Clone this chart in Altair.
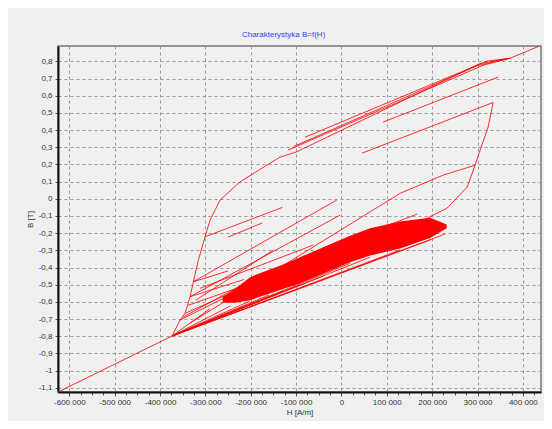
import altair as alt
import pandas as pd

# ---- curves (H in A/m, B in T) ----
sat_H = [-624900, -373500]
sat_B = [-1.125, -0.799]

left_H = [-373500, -355850, -344820, -333790, -326520, -315490, -300720]
left_B = [-0.799, -0.706, -0.667, -0.570, -0.483, -0.357, -0.221]

upper_H = [-300720, -289700, -267600, -223500, -157300, -135300, -98500, 305800, 372000, 435900]
upper_B = [-0.221, -0.124, -0.007, 0.099, 0.208, 0.243, 0.274, 0.788, 0.819, 0.889]

l1_H = [-117650, 312400, 372000]
l1_B = [0.284, 0.778, 0.819]
l2_H = [-80200, 321200, 372000]
l2_B = [0.359, 0.802, 0.819]
l5_H = [-105000, 300000, 372000]
l5_B = [0.305, 0.776, 0.819]
l3_H = [91900, 345500]
l3_B = [0.447, 0.709]
l4_H = [45550, 334500, 323400, 305800, 294800, 277100, 233000, 180100, 151400]
l4_B = [0.266, 0.561, 0.418, 0.284, 0.196, 0.068, -0.054, -0.124, -0.159]

long_H = [-333790, 129340, 224200, 294800]
long_B = [-0.723, 0.032, 0.138, 0.196]

short_H = [63190, 166850]
short_B = [-0.194, -0.089]

c_H = [-326520, -10250]
c_B = [-0.483, -0.007]
f2_H = [-333790, -2980]
f2_B = [-0.570, -0.095]
d_H = [-311740, -61860]
d_B = [-0.521, -0.269]
e_H = [-320560, -150080]
e_B = [-0.589, -0.298]
a_H = [-300720, -130230]
a_B = [-0.221, -0.050]
b_H = [-249990, -175000]
b_B = [-0.223, -0.141]

# fan of lines leaving the convergence point towards the dense region
fan_start_H = -373500
fan_start_B = -0.799
fan_end_H = [-289690, -245580, -201470, -160000, -128690, -91190, -40000, 19080, 63190, 129340, 195520, 228600]
fan_end_B = [-0.640, -0.625, -0.595, -0.560, -0.535, -0.500, -0.450, -0.375, -0.340, -0.298, -0.240, -0.205]

# lines from the left rising curve into the dense region
lc_start_H = [-355850, -350000, -344820, -338000, -333790, -326520]
lc_start_B = [-0.706, -0.690, -0.667, -0.620, -0.570, -0.483]
lc_end_H = [-201470, -170000, -179410, -230000, -215000, -250000]
lc_end_B = [-0.502, -0.430, -0.473, -0.520, -0.470, -0.420]

# dense minor-loop region (upper and lower edge)
blob_H = [-262000, -235000, -201470, -128690, -91190, 19080, 63190, 129340, 195520, 232000]
blob_top = [-0.572, -0.525, -0.456, -0.382, -0.340, -0.215, -0.172, -0.132, -0.110, -0.150]
blob_bot = [-0.605, -0.605, -0.590, -0.525, -0.492, -0.370, -0.330, -0.290, -0.228, -0.172]

x_ticks = list(range(-600000, 425001, 25000))
y_ticks = [round(-1.1 + 0.1 * i, 1) for i in range(20)]

curves = {
    "sat": (sat_H, sat_B), "left": (left_H, left_B), "upper": (upper_H, upper_B),
    "l1": (l1_H, l1_B), "l2": (l2_H, l2_B), "l5": (l5_H, l5_B), "l3": (l3_H, l3_B),
    "l4": (l4_H, l4_B), "long": (long_H, long_B), "short": (short_H, short_B),
    "c": (c_H, c_B), "f2": (f2_H, f2_B), "d": (d_H, d_B), "e": (e_H, e_B),
    "a": (a_H, a_B), "b": (b_H, b_B),
}
for i, (h, bb) in enumerate(zip(fan_end_H, fan_end_B)):
    curves[f"fan{i}"] = ([fan_start_H, h], [fan_start_B, bb])
for i in range(len(lc_start_H)):
    curves[f"lc{i}"] = ([lc_start_H[i], lc_end_H[i]], [lc_start_B[i], lc_end_B[i]])

rows = []
for name, (hs, bs) in curves.items():
    for k, (h, bb) in enumerate(zip(hs, bs)):
        rows.append({"H": h, "B": bb, "curve": name, "k": k})
df = pd.DataFrame(rows)
blob_df = pd.DataFrame({"H": blob_H, "top": blob_top, "bot": blob_bot})

FONT = "Liberation Sans"
xscale = alt.Scale(domain=[-625000, 440000], nice=False, zero=False)
yscale = alt.Scale(domain=[-1.125, 0.89], nice=False, zero=False)
major = "datum.value % 100000 === 0"

xaxis = alt.Axis(
    values=x_ticks,
    labelExpr=f"{major} ? (datum.value < 0 ? '-' : '') + replace(format(abs(datum.value), ','), ',', ' ') : ''",
    tickSize={"condition": {"test": major, "value": 4}, "value": 3},
    gridOpacity={"condition": {"test": major, "value": 1}, "value": 0},
    grid=True, gridColor="#999999", gridDash=[3, 3], gridWidth=1,
    labelFont=FONT, labelFontSize=8, labelColor="#333333", labelOverlap=False,
    labelFlush=False, labelPadding=2,
    domainColor="#111111", domainWidth=2, tickColor="#555555",
    titleFont=FONT, titleFontSize=8, titleFontWeight="normal", titleColor="#333333",
    titlePadding=2,
)
yaxis = alt.Axis(
    values=y_ticks,
    labelExpr="(datum.value < 0 ? '-' : '') + replace(format(abs(datum.value), '.1~f'), '.', ',')",
    tickSize=3, grid=True, gridColor="#999999", gridDash=[3, 3], gridWidth=1,
    labelFont=FONT, labelFontSize=8, labelColor="#333333", labelOverlap=False,
    labelFlush=False, labelPadding=3,
    domainColor="#111111", domainWidth=2, tickColor="#555555",
    titleFont=FONT, titleFontSize=8, titleFontWeight="normal", titleColor="#333333",
    titlePadding=4,
)

blob = alt.Chart(blob_df).mark_area(color="#ff0000", opacity=1, clip=True).encode(
    x=alt.X("H:Q", scale=xscale, axis=xaxis, title="H [A/m]"),
    y=alt.Y("top:Q", scale=yscale, axis=yaxis, title="B [T]"),
    y2="bot:Q",
)

lines = alt.Chart(df).mark_line(color="#ff0000", strokeWidth=0.9, opacity=0.9, clip=True).encode(
    x=alt.X("H:Q", scale=xscale, axis=xaxis, title="H [A/m]"),
    y=alt.Y("B:Q", scale=yscale, axis=yaxis, title="B [T]"),
    detail="curve:N",
    order="k:Q",
)

chart = alt.layer(blob, lines).properties(
    width=483,
    height=346,
    padding={"left": 50, "top": 38, "right": 3, "bottom": 29},
    autosize=alt.AutoSizeParams(type="none"),
    background="#f0f0f0",
    title=alt.TitleParams(
        "Charakterystyka B=f(H)", color="#3a3aff", fontSize=8, font=FONT,
        fontWeight="normal", anchor="middle", frame="bounds", offset=7,
    ),
).configure_view(stroke="#777777", strokeWidth=1.5)

chart.save("out.html", embed_options={"renderer": "svg", "actions": False})
